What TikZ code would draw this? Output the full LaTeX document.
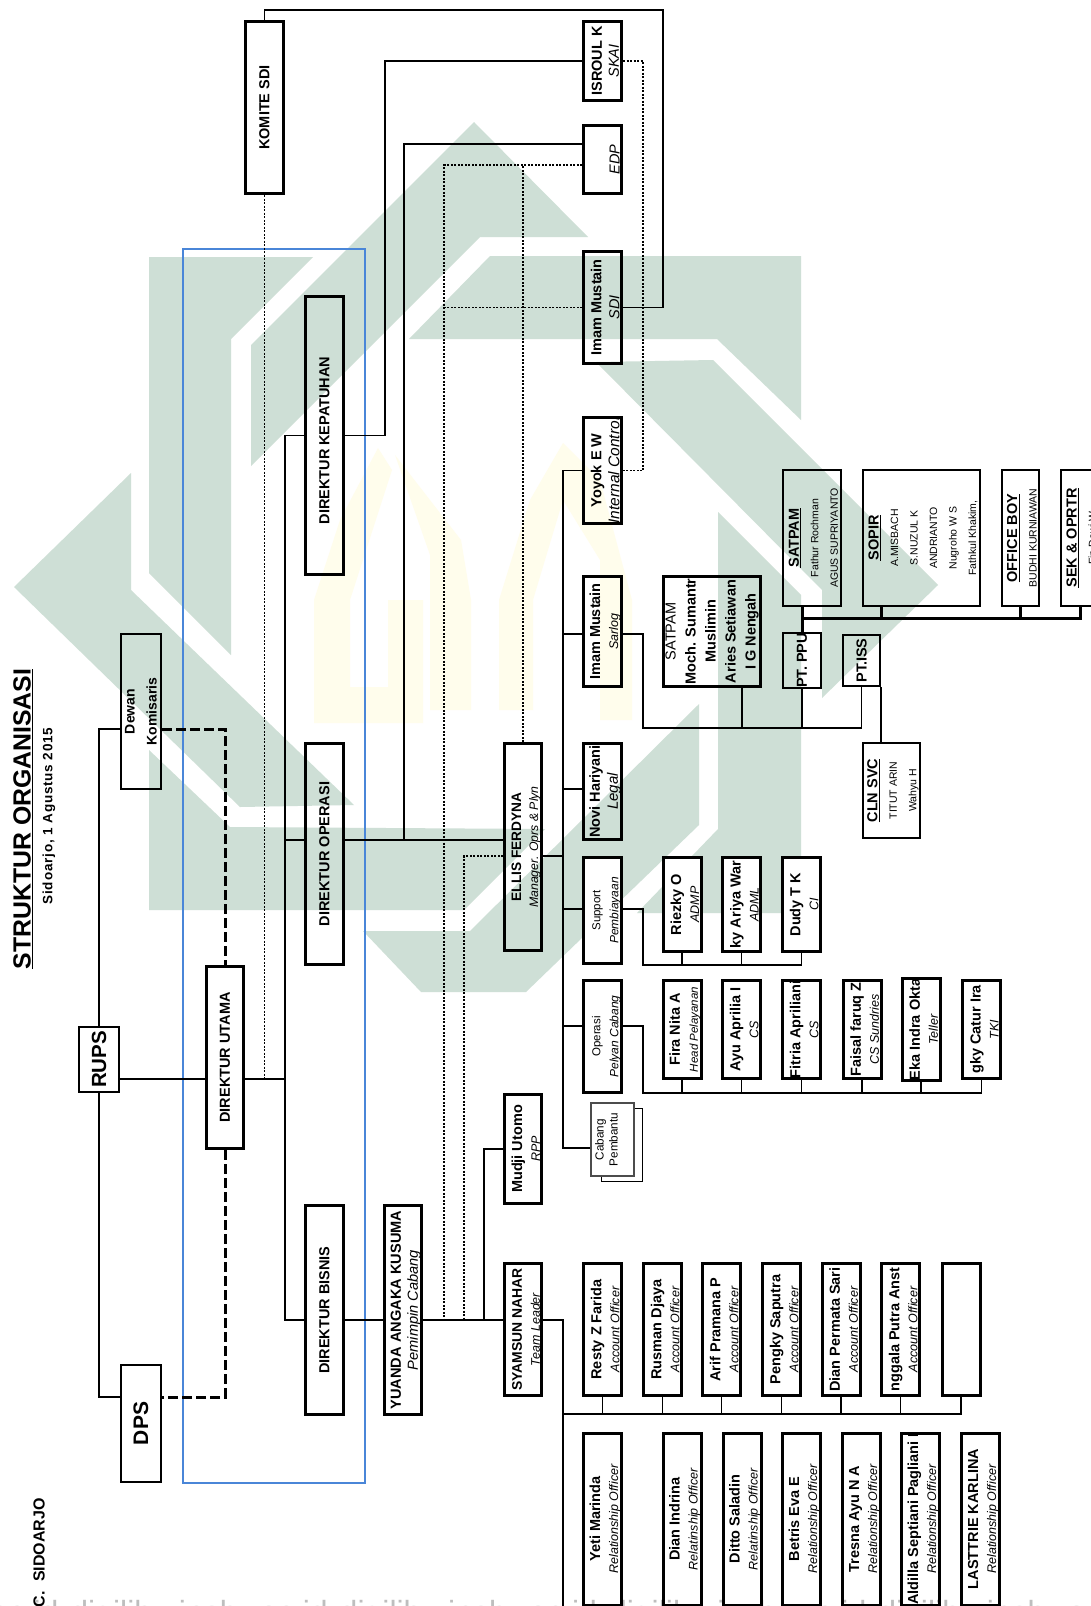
\documentclass[tikz,border=0pt]{standalone}
\usepackage{fontspec}
\setmainfont{Liberation Sans}
\usetikzlibrary{positioning}
\definecolor{wmgreen}{RGB}{206,223,214}
\definecolor{wmyellow}{RGB}{255,253,236}
\definecolor{frameblue}{RGB}{74,134,216}
\definecolor{wmgray}{RGB}{190,190,190}
\newcommand{\namerole}[3][12.5]{\rule{0pt}{16pt}{\bfseries #2}\\{\itshape\fontsize{#1}{18}\selectfont #3}}
\newcommand{\listhead}[1]{\rule{0pt}{13pt}{\bfseries\fontsize{14.5}{20}\selectfont\underline{#1}}}

\begin{document}
\begin{tikzpicture}[
        x=1pt, y=-1pt,
        boxthick/.style={draw, line width=3pt, rotate=90, inner sep=0pt, align=center, font=\fontsize{14.5}{18}\selectfont},
        boxthin/.style={draw, line width=2pt, rotate=90, inner sep=0pt, align=center, font=\fontsize{14.5}{18}\selectfont},
        colbox/.style={boxthick, minimum height=38},
        aobox/.style={colbox, minimum width=132},
        robox/.style={colbox, minimum width=172},
        adminbox/.style={colbox, minimum width=94, fill=white},
        cabbox/.style={colbox, minimum width=98},
        listbox/.style={boxthin, font=\fontsize{10.5}{19.5}\selectfont},
        plain/.style={rotate=90, inner sep=0pt, align=center},
        wire/.style={line width=1.8pt},
        wirethick/.style={line width=3pt},
        dotwire/.style={line width=1.2pt, dash pattern=on 2pt off 1.5pt},
        heavydash/.style={line width=3pt, dash pattern=on 10pt off 4pt},
        wmshape/.style={fill=wmgreen, draw=none},
        wmletter/.style={fill=wmyellow, draw=none}
      ]
      \useasboundingbox (0,0) rectangle (1091,1606);
      \clip (0,0) rectangle (1091,1606);
      \fill[white] (0,0) rectangle (1091,1606);

      % watermark
      \fill[wmshape] (474,122) -- (588,237) -- (480,237) -- (251,466) -- (251,345) -- cycle;
      \fill[wmshape] (490,256) -- (801,256) -- (801,420) -- (717,339) -- (409,339) -- cycle;
      \fill[wmshape] (149,257) -- (313,257) -- (231,339) -- (231,655) -- (149,573) -- cycle;
      \fill[wmshape] (131,473) -- (131,590) -- (354,805) -- (240,807) -- (14,587) -- cycle;
      \fill[wmshape] (149,750) -- (230,827) -- (545,829) -- (464,910) -- (149,910) -- cycle;
      \fill[wmshape] (363,931) -- (421,992) -- (526,992) -- (699,825) -- (699,704) -- (470,931) -- cycle;
      \fill[wmshape] (718,512) -- (801,595) -- (801,913) -- (637,913) -- (718,829) -- cycle;
      \fill[wmshape] (938,585) -- (822,698) -- (822,590) -- (596,362) -- (713,360) -- cycle;
      \fill[wmletter] (314,723) -- (314,600) -- (340,520) -- (378,448) -- (392,470) -- (350,600) -- (350,687) -- (388,687) -- (388,600) -- (423,600) -- (423,723) -- cycle;
      \fill[wmletter] (430,710) -- (430,555) -- (395,455) -- (461,540) -- (471,600) -- (471,710) -- cycle;
      \fill[wmletter] (499,710) -- (499,600) -- (530,500) -- (563,443) -- (600,480) -- (632,600) -- (632,720) -- (600,720) -- (600,560) -- (563,500) -- (533,600) -- (533,710) -- cycle;
      \node[anchor=base west, inner sep=0pt, text=wmgray, font=\fontsize{32}{36}\selectfont] (digilib) at (-199,1623)
        {digilib.uinsby.ac.id\hspace{12pt}digilib.uinsby.ac.id\hspace{12pt}digilib.uinsby.ac.id\hspace{12pt}digilib.uinsby.ac.id\hspace{12pt}digilib.uinsby.ac.id};

      \draw[frameblue, line width=1.6pt] (183,249) rectangle (365,1483);

      % headings
      \node[plain, font=\bfseries\fontsize{24.8}{28}\selectfont] (title) at (23,819) {\underline{STRUKTUR ORGANISASI}};
      \node[plain, font=\bfseries\fontsize{13.5}{16}\selectfont] (subtitle) at (49,816) {\addfontfeature{LetterSpace=6}Sidoarjo, 1 Agustus 2015};
      \node[plain, anchor=east, font=\bfseries\fontsize{16}{18}\selectfont] (branch) at (39,1498) {C.\hspace{5pt} SIDOARJO};

      % board
      \node[boxthin, minimum width=65, minimum height=40, font=\bfseries\fontsize{20.5}{24}\selectfont] (rups) at (99,1059.5) {RUPS};
      \node[boxthin, minimum width=117, minimum height=40, font=\bfseries\fontsize{21}{24}\selectfont] (dps) at (141,1423.5) {DPS};
      \node[boxthin, minimum width=155, minimum height=40, font=\bfseries\fontsize{14}{22}\selectfont] (dewan) at (141,711.5) {Dewan\\Komisaris};
      \node[boxthick, minimum width=182, minimum height=37, font=\bfseries\fontsize{14.5}{18}\selectfont] (utama) at (225,1057.5) {DIREKTUR UTAMA};
      \node[boxthick, minimum width=172, minimum height=38, font=\bfseries\fontsize{14.5}{18}\selectfont] (komite) at (264.5,107.5) {KOMITE SDI};
      \node[boxthick, minimum width=278, minimum height=38, font=\bfseries\fontsize{14.5}{18}\selectfont] (kepatuhan) at (324.5,435.5) {DIREKTUR KEPATUHAN\hspace*{10pt}};
      \node[boxthick, minimum width=221, minimum height=38, font=\bfseries\fontsize{14.5}{18}\selectfont] (diroperasi) at (324.5,854) {DIREKTUR OPERASI};
      \node[boxthick, minimum width=209, minimum height=38, font=\bfseries\fontsize{14.5}{18}\selectfont] (bisnis) at (324.5,1310) {DIREKTUR BISNIS};
      \node[boxthick, minimum width=209, minimum height=37, font=\fontsize{14.6}{17}\selectfont] (yuanda) at (403,1310) {\rule{0pt}{16pt}{\bfseries YUANDA ANGAKA KUSUMA}\\{\itshape Pemimpin Cabang}};
      \node[boxthick, minimum width=207, minimum height=37, font=\fontsize{13.7}{17}\selectfont] (ellis) at (523,847) {\rule{0pt}{16pt}{\bfseries ELLIS FERDYNA}\\{\itshape\fontsize{12.3}{17}\selectfont Manager. Oprs \& Plyn}};
      \node[boxthick, minimum width=109, minimum height=37] (mudji) at (523,1149) {\namerole{Mudji Utomo}{RPP}};
      \node[boxthick, minimum width=132, minimum height=37, font=\fontsize{13.9}{18}\selectfont] (syamsun) at (523,1329.5) {\namerole{SYAMSUN NAHAR}{Team Leader}};

      % first column
      \node[colbox, minimum width=79, font=\fontsize{14.5}{17}\selectfont] (isroul) at (602.5,61) {\rule{0pt}{16pt}{\bfseries ISROUL K}\\{\itshape SKAI}};
      \node[colbox, minimum width=68] (edp) at (602.5,159.5) {\namerole[14.5]{}{EDP}};
      \node[colbox, minimum width=112] (sdi) at (602.5,307.5) {\namerole[14.5]{Imam Mustain}{SDI}};
      \node[colbox, minimum width=102] (yoyok) at (602.5,470.5) {\namerole[15.5]{Yoyok E W}{Internal Control}};
      \node[colbox, minimum width=110] (sarlog) at (602.5,631.5) {\namerole{Imam Mustain}{Sarlog}};
      \node[colbox, minimum width=96] (novi) at (602.5,791.5) {\namerole[15]{Novi Hariyani}{Legal}};
      \node[colbox, minimum width=106, fill=white, font=\fontsize{11.5}{18}\selectfont] (support) at (602.5,910.5) {\rule{0pt}{16pt}Support\\{\itshape\fontsize{12}{18}\selectfont Pembiayaan}};
      \node[colbox, minimum width=112, font=\fontsize{11.5}{18}\selectfont] (pelyanan) at (602.5,1036.5) {\rule{0pt}{16pt}Operasi\\{\itshape\fontsize{12}{18}\selectfont Pelyan Cabang}};
      \node[draw, line width=1pt, minimum width=73, minimum height=41, rotate=90, inner sep=0pt] (cabangback) at (621.5,1144.5) {};
      \node[draw=black!70, fill=white, line width=1.4pt, minimum width=73, minimum height=43, rotate=90, inner sep=0pt, align=center, font=\fontsize{11.7}{14}\selectfont] (cabang) at (612.5,1139.5) {Cabang\\Pembantu\rule[-12pt]{0pt}{12pt}};

      % account officers
      \node[aobox] (resty) at (602.5,1329.5) {\namerole{Resty Z Farida}{Account Officer}};
      \node[aobox] (rusman) at (662.5,1329.5) {\namerole{Rusman Djaya}{Account Officer}};
      \node[aobox] (arif) at (721.5,1329.5) {\namerole{Arif Pramana P}{Account Officer}};
      \node[aobox] (pengky) at (781.5,1329.5) {\namerole{Pengky Saputra}{Account Officer}};
      \node[aobox] (dianp) at (841,1329.5) {\namerole{Dian Permata Sari}{Account Officer}};
      \node[aobox] (anggala) at (900.5,1329.5) {\namerole{nggala Putra Anst}{Account Officer}};
      \node[aobox] (aoblank) at (961,1329.5) {};

      % relationship officers
      \node[robox] (yeti) at (602.5,1519) {\namerole{Yeti Marinda}{Relationship Officer}};
      \node[robox] (diani) at (682,1519) {\namerole{Dian Indrina}{Relatinship Officer}};
      \node[robox] (ditto) at (742,1519) {\namerole{Ditto Saladin}{Relatinship Officer}};
      \node[robox] (betris) at (801.5,1519) {\namerole{Betris Eva E}{Relationship Officer}};
      \node[robox] (tresna) at (861.5,1519) {\namerole{Tresna Ayu N A}{Relationship Officer}};
      \node[robox] (aldilla) at (920.5,1519) {\namerole{Aldilla Septiani Pagliani I}{Relationship Officer}};
      \node[robox] (lasttrie) at (980.5,1519) {\namerole{LASTTRIE KARLINA}{Relationship Officer}};

      % support staff
      \node[adminbox] (riezky) at (682,904.5) {\namerole{Riezky O}{ADMP}};
      \node[adminbox] (ariya) at (741.5,904.5) {\namerole{ky Ariya War}{ADML}};
      \node[adminbox] (dudy) at (801.5,904.5) {\namerole{Dudy T K}{CI}};

      % branch staff
      \node[cabbox] (fira) at (682,1029.5) {\namerole[11.5]{Fira Nita A}{Head Pelayanan}};
      \node[cabbox] (ayu) at (741.5,1029.5) {\namerole{Ayu Aprilia I}{CS}};
      \node[cabbox] (fitria) at (801.5,1029.5) {\namerole{Fitria Apriliani}{CS}};
      \node[cabbox] (faisal) at (862,1029.5) {\namerole{Faisal faruq Z}{CS Sundries}};
      \node[cabbox] (eka) at (921,1029.5) {\namerole{Eka Indra Okta}{Teller}};
      \node[cabbox] (anggi) at (981.5,1029.5) {\namerole{gky Catur Ira}{TKI}};

      % outsourced staff
      \node[boxthick, minimum width=110, minimum height=97, font=\fontsize{14.5}{20}\selectfont] (satpamlist) at (712,631.5) {SATPAM\\{\bfseries Moch. Sumantr}\\{\bfseries Muslimin}\\{\bfseries Aries Setiawan}\\{\bfseries I G Nengah}};
      \node[boxthin, minimum width=51, minimum height=38, font=\bfseries\fontsize{14.5}{18}\selectfont] (ppu) at (802,660.5) {PT. PPU};
      \node[boxthin, minimum width=51, minimum height=37, font=\bfseries\fontsize{14.5}{18}\selectfont] (iss) at (861.5,660.5) {PT.ISS};
      \node[listbox, minimum width=136, minimum height=58] (satpam) at (812,538) {\listhead{SATPAM}\\Fathur Rochman\\AGUS SUPRIYANTO};
      \node[listbox, minimum width=136, minimum height=117] (sopir) at (921.5,538) {\listhead{SOPIR}\\A.MISBACH\\S.NUZUL K\\ANDRIANTO\\Nugroho W S\\Fathkul Khakim,};
      \node[listbox, minimum width=136, minimum height=37] (officeboy) at (1020.5,538) {\listhead{OFFICE BOY}\\BUDHI KURNIAWAN};
      \node[listbox, minimum width=136, minimum height=38] (sek) at (1080,538) {\listhead{SEK \& OPRTR}\\Fin Dewi W};
      \node[listbox, minimum width=95, minimum height=57] (clnsvc) at (891.5,790.5) {\listhead{CLN SVC}\\TITUT ARIN\\Wahyu H};

      % junctions
      \coordinate (dirbus) at (285,1079);
      \coordinate (skaibend) at (385,61);
      \coordinate (edpdrop) at (404,840);
      \coordinate (sdibend) at (663,10);
      \coordinate (pincabbus) at (484,1320);
      \coordinate (opsbus) at (563,1148);
      \coordinate (teambus) at (563,1610);
      \coordinate (aobus) at (563,1414);
      \coordinate (sarlogbus) at (643,728);
      \coordinate (supportbus) at (643,965);
      \coordinate (pelyananbus) at (643,1093);
      \coordinate (servbus) at ([yshift=14pt]ppu.east);
      \coordinate (skaidot) at (643,61);
      \coordinate (edpdot) at ([yshift=-5.5pt]edp.north);
      \coordinate (dotone) at (444,1320);
      \coordinate (dottwo) at (464,1320);

      % solid lines
      \draw[wire] ([yshift=-17.5pt]dewan.north) -| (rups.east);
      \draw[wire] (rups.west) |- ([yshift=26.5pt]dps.north);
      \draw[wire] ([yshift=-19.5pt]rups.south) -- ([yshift=-21.5pt]utama.north);
      \draw[wire] ([yshift=-21.5pt]utama.south) -- (dirbus);
      \draw[wire] (kepatuhan.north) -| (dirbus);
      \draw[wire] (dirbus) |- ([yshift=-10pt]bisnis.north);
      \draw[wire] ([yshift=14pt]diroperasi.north) -| (dirbus);
      \draw[wire] ([yshift=14pt]diroperasi.south) -- ([yshift=7pt]ellis.north);
      \draw[wire] ([yshift=-10pt]bisnis.south) -- ([yshift=-10pt]yuanda.north);
      \draw[wire] ([yshift=-10pt]yuanda.south) -- ([yshift=9.5pt]syamsun.north);
      \draw[wire] (mudji.north) -| (pincabbus);
      \draw[wire] (kepatuhan.south) -| (skaibend) -- (isroul.north);
      \draw[wire] ([yshift=15.5pt]edp.north) -| (edpdrop);
      \draw[wire] (komite.east) |- (sdibend) |- (sdi.south);

      \draw[wire] (yoyok.north) -| (opsbus) -- ([yshift=-8.5pt]cabang.north);
      \draw[wire] ([yshift=-9pt]ellis.south) -| (opsbus);
      \draw[wire] ([yshift=-2.5pt]sarlog.north) -| (opsbus);
      \draw[wire] ([yshift=2.5pt]novi.north) -| (opsbus);
      \draw[wire] ([yshift=1.5pt]support.north) -| (opsbus);
      \draw[wire] ([yshift=10.5pt]pelyanan.north) -| (opsbus);

      \draw[wire] ([yshift=9.5pt]syamsun.south) -| (teambus);
      \draw[wire] (aoblank.west) |- (aobus);
      \draw[wire] (resty.west) |- (aobus);
      \draw[wire] (rusman.west) |- (aobus);
      \draw[wire] (arif.west) |- (aobus);
      \draw[wire] (pengky.west) |- (aobus);
      \draw[wire] (dianp.west) |- (aobus);
      \draw[wire] (anggala.west) |- (aobus);

      \draw[wire] ([yshift=1.5pt]support.south) -| (supportbus) -| (dudy.west);
      \draw[wire] (riezky.west) |- (supportbus);
      \draw[wire] (ariya.west) |- (supportbus);
      \draw[wire] ([yshift=10.5pt]pelyanan.south) -| (pelyananbus) -| (anggi.west);
      \draw[wire] (fira.west) |- (pelyananbus);
      \draw[wire] (ayu.west) |- (pelyananbus);
      \draw[wire] (fitria.west) |- (pelyananbus);
      \draw[wire] (faisal.west) |- (pelyananbus);
      \draw[wire] (eka.west) |- (pelyananbus);

      \draw[wire] ([yshift=-2.5pt]sarlog.south) -| (sarlogbus) -| (iss.west);
      \draw[wire] ([xshift=30pt]satpamlist.west) |- (sarlogbus);
      \draw[wire] (ppu.west) |- (sarlogbus);
      \draw[wire] ([xshift=19.5pt]iss.west) -- ([xshift=-10.5pt]clnsvc.east);
      \draw[wirethick] ([xshift=-10pt]satpam.west) -- (ppu.east);
      \draw[wirethick] (servbus) -| (sek.west);
      \draw[wirethick] ([xshift=-40.5pt]sopir.west) |- (servbus);
      \draw[wirethick] (officeboy.west) |- (servbus);

      % dotted lines
      \draw[dotwire, line width=1pt] (komite.west) -- (komite.west |- dirbus);
      \draw[dotwire] (edpdot) -| (dotone);
      \draw[dotwire] (sdi.north) -- (sdi.north -| dotone);
      \draw[dotwire] (ellis.east) -- (ellis.east |- edpdot);
      \draw[dotwire] ([yshift=-9pt]ellis.north) -| (dottwo);
      \draw[dotwire] (isroul.south) -- (skaidot) |- (yoyok.south);

      % supervisory board
      \draw[heavydash] ([yshift=-17.5pt]dewan.south) -| (utama.east);
      \draw[heavydash] (utama.west) |- ([yshift=26.5pt]dps.south);
    \end{tikzpicture}
\end{document}
